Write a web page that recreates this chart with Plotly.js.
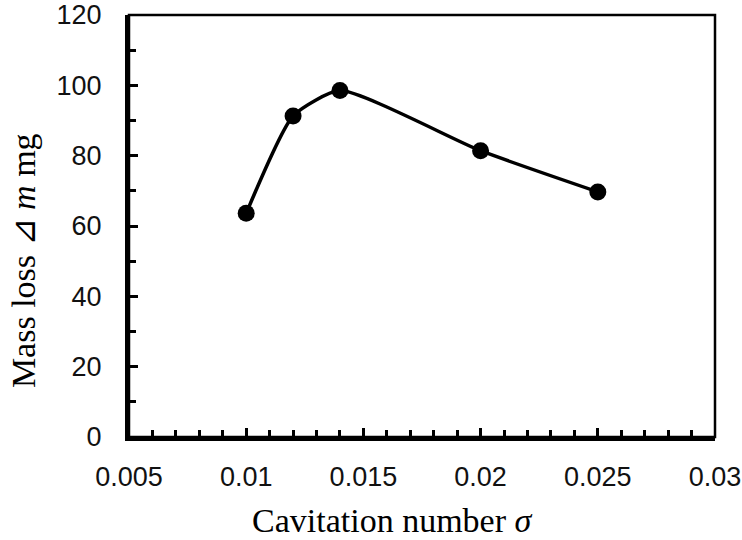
<!DOCTYPE html>
<html><head><meta charset="utf-8">
<script src="https://cdn.plot.ly/plotly-3.0.1.min.js"></script>
<style>body{margin:0;background:#fff}</style>
</head><body>
<div id="chart" style="width:742px;height:540px"></div>
<script>
const sigma = [0.01, 0.012, 0.014, 0.02, 0.025];
const massLoss = [63.6, 91.3, 98.5, 81.4, 69.7];
const xTickVals = [0.005, 0.01, 0.015, 0.02, 0.025, 0.03];
const xTickText = ['0.005', '0.01', '0.015', '0.02', '0.025', '0.03'];
const yTickVals = [0, 20, 40, 60, 80, 100, 120];
const xTitle = 'Cavitation number <i>σ</i>';
const yTitle = 'Mass loss ⊿ <i>m</i> mg';

const tickFont = {family: 'Liberation Sans, Arial, sans-serif', size: 27, color: '#111'};
const titleFont = {family: 'Liberation Serif, Times New Roman, serif', size: 34, color: '#000'};

const trace = {
  x: sigma, y: massLoss, type: 'scatter', mode: 'lines+markers',
  line: {color: '#000', width: 3.5, shape: 'spline', smoothing: 0.55},
  marker: {color: '#000', size: 17},
  showlegend: false
};

const layout = {
  width: 742, height: 540,
  margin: {l: 129, r: 27, t: 15, b: 103},
  paper_bgcolor: '#fff', plot_bgcolor: '#fff',
  xaxis: {
    range: [0.005, 0.03], tickvals: xTickVals, ticktext: xTickText,
    ticks: 'inside', ticklen: 9, tickwidth: 3, tickcolor: '#000',
    minor: {dtick: 0.001, ticks: 'inside', ticklen: 7, tickwidth: 3, tickcolor: '#000', showgrid: false},
    showline: true, linewidth: 4, linecolor: '#000', showgrid: false, zeroline: false,
    tickfont: tickFont, ticklabelstandoff: 13, ticklabeloverflow: 'allow'
  },
  yaxis: {
    range: [0, 120], tickvals: yTickVals,
    ticks: 'inside', ticklen: 9, tickwidth: 3, tickcolor: '#000',
    minor: {dtick: 10, ticks: 'inside', ticklen: 7, tickwidth: 3, tickcolor: '#000', showgrid: false},
    showline: true, linewidth: 4, linecolor: '#000', showgrid: false, zeroline: false,
    tickfont: tickFont, ticklabelstandoff: 18, ticklabeloverflow: 'allow'
  },
  shapes: [{type: 'rect', xref: 'paper', yref: 'paper', x0: 0, x1: 1, y0: 0, y1: 1,
            line: {color: '#000', width: 2.5}, layer: 'above'}],
  annotations: [
    {text: xTitle, xref: 'paper', yref: 'paper', x: 0.449, y: -0.198, xanchor: 'center', yanchor: 'middle',
     showarrow: false, font: titleFont},
    {text: yTitle, xref: 'paper', yref: 'paper', x: -0.181, y: 0.419, xanchor: 'center', yanchor: 'middle',
     textangle: -90, showarrow: false, font: titleFont}
  ]
};

Plotly.newPlot('chart', [trace], layout, {displayModeBar: false, staticPlot: true});
</script>
</body></html>
